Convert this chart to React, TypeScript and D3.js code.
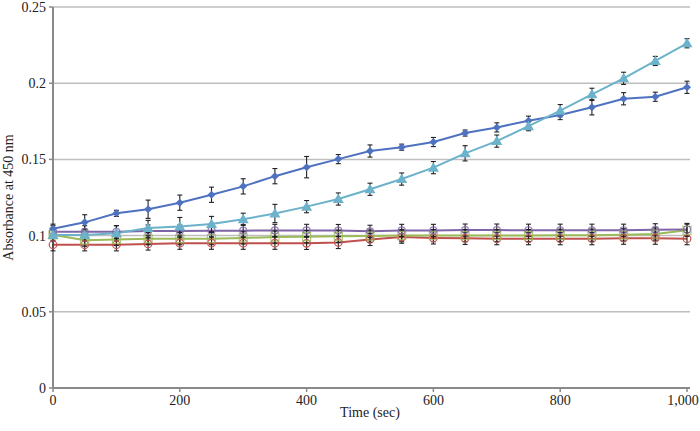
import React from "react";
import * as d3 from "d3";

const times = [0, 50, 100, 150, 200, 250, 300, 350, 400, 450, 500, 550, 600, 650, 700, 750, 800, 850, 900, 950, 1000];

const blueValues = [0.1045, 0.1087, 0.1146, 0.1173, 0.1216, 0.1268, 0.1323, 0.139, 0.1449, 0.1502, 0.1555, 0.158, 0.1614, 0.1673, 0.171, 0.1754, 0.1791, 0.1842, 0.1898, 0.1911, 0.1973];
const blueErrors = [0.003, 0.005, 0.002, 0.006, 0.005, 0.005, 0.005, 0.005, 0.007, 0.003, 0.004, 0.002, 0.003, 0.002, 0.003, 0.003, 0.003, 0.005, 0.004, 0.003, 0.004];

const cyanValues = [0.1004, 0.1004, 0.1015, 0.105, 0.1059, 0.1076, 0.1107, 0.1145, 0.119, 0.124, 0.1304, 0.1371, 0.1446, 0.154, 0.162, 0.1718, 0.182, 0.1927, 0.2032, 0.2146, 0.2262];
const cyanErrors = [0.004, 0.004, 0.005, 0.005, 0.006, 0.005, 0.004, 0.006, 0.004, 0.004, 0.004, 0.004, 0.004, 0.005, 0.004, 0.003, 0.004, 0.004, 0.004, 0.003, 0.003];

const purpleValues = [0.1025, 0.1025, 0.1025, 0.103, 0.103, 0.1032, 0.1032, 0.1034, 0.1034, 0.1033, 0.1028, 0.1034, 0.1034, 0.1036, 0.1036, 0.1035, 0.1035, 0.1035, 0.1035, 0.1038, 0.104];
const purpleErrors = [0.004, 0.004, 0.004, 0.004, 0.004, 0.004, 0.004, 0.004, 0.004, 0.004, 0.004, 0.004, 0.004, 0.004, 0.004, 0.004, 0.004, 0.004, 0.004, 0.004, 0.004];

const greenValues = [0.1005, 0.097, 0.0975, 0.098, 0.098, 0.098, 0.0985, 0.099, 0.0993, 0.0995, 0.0997, 0.1, 0.1, 0.1, 0.1, 0.1, 0.1002, 0.1003, 0.1005, 0.101, 0.1035];
const greenErrors = [0.004, 0.004, 0.004, 0.004, 0.004, 0.004, 0.004, 0.004, 0.004, 0.004, 0.004, 0.004, 0.004, 0.004, 0.004, 0.004, 0.004, 0.004, 0.004, 0.004, 0.004];

const redValues = [0.094, 0.094, 0.094, 0.0945, 0.095, 0.095, 0.095, 0.095, 0.0949, 0.0955, 0.0975, 0.099, 0.0985, 0.0982, 0.098, 0.098, 0.098, 0.098, 0.0983, 0.0983, 0.098];
const redErrors = [0.004, 0.004, 0.004, 0.004, 0.004, 0.004, 0.004, 0.004, 0.004, 0.004, 0.004, 0.004, 0.004, 0.004, 0.004, 0.004, 0.004, 0.004, 0.004, 0.004, 0.004];

const xTicks = [0, 200, 400, 600, 800, 1000];
const yTicks = [0, 0.05, 0.1, 0.15, 0.2, 0.25];

const xTitle = "Time (sec)";
const yTitle = "Absorbance at 450 nm";

type Series = { values: number[]; errors: number[]; color: string; marker: "diamond" | "triangle" | "circle" | "square" | "circleOpen" };

const seriesList: Series[] = [
  { values: redValues, errors: redErrors, color: "#C0504D", marker: "circleOpen" },
  { values: greenValues, errors: greenErrors, color: "#9BBB59", marker: "square" },
  { values: purpleValues, errors: purpleErrors, color: "#7F64A8", marker: "circle" },
  { values: blueValues, errors: blueErrors, color: "#4F72C0", marker: "diamond" },
  { values: cyanValues, errors: cyanErrors, color: "#6BB2CA", marker: "triangle" },
];

export default function App() {
  const W = 700, H = 431;
  const x = d3.scaleLinear().domain([0, 1000]).range([53, 687]);
  const y = d3.scaleLinear().domain([0, 0.25]).range([388, 7]);
  const plotRight = 690;
  const fmtX = d3.format(",");
  const font = "'Liberation Serif', 'Times New Roman', Times, serif";
  const fs = 14;

  const marker = (s: Series, px: number, py: number, k: number) => {
    switch (s.marker) {
      case "diamond":
        return <path key={k} d={`M${px},${py - 4}L${px + 4},${py}L${px},${py + 4}L${px - 4},${py}Z`} fill={s.color} />;
      case "triangle":
        return <path key={k} d={`M${px},${py - 5.5}L${px + 5.5},${py + 4}L${px - 5.5},${py + 4}Z`} fill={s.color} />;
      case "circle":
        return <circle key={k} cx={px} cy={py} r={3.5} fill="none" stroke={s.color} strokeWidth={1.2} opacity={0.8} />;
      case "square":
        return <rect key={k} x={px - 4} y={py - 4} width={8} height={8} fill="none" stroke={s.color} strokeWidth={1.2} opacity={0.8} />;
      case "circleOpen":
        return <circle key={k} cx={px} cy={py} r={3.8} fill="none" stroke={s.color} strokeWidth={1.2} />;
    }
  };

  const line = d3.line<number>().x((_, i) => x(times[i])).y((v) => y(v));

  return (
    <svg width={W} height={H} style={{ position: "absolute", left: 0, top: 0, background: "#fff", fontFamily: font }}>
      {yTicks.filter((t) => t > 0).map((t) => (
        <line key={t} x1={53} x2={plotRight} y1={y(t)} y2={y(t)} stroke="#BEBEBE" strokeWidth={1.5} />
      ))}
      <line x1={53} x2={53} y1={y(0.25)} y2={y(0)} stroke="#8A8A8A" strokeWidth={2} />
      <line x1={53} x2={plotRight} y1={y(0)} y2={y(0)} stroke="#8A8A8A" strokeWidth={2} />
      {yTicks.map((t) => (
        <g key={t}>
          <line x1={49} x2={53} y1={y(t)} y2={y(t)} stroke="#8A8A8A" strokeWidth={1.5} />
          <text x={46} y={y(t)} dy="0.35em" textAnchor="end" fontSize={fs} fill="#222">{String(t)}</text>
        </g>
      ))}
      {xTicks.map((t) => (
        <g key={t}>
          <line x1={x(t)} x2={x(t)} y1={y(0)} y2={y(0) + 4} stroke="#8A8A8A" strokeWidth={1.5} />
          <text x={t === 1000 ? x(t) - 4 : x(t)} y={405} textAnchor="middle" fontSize={fs} fill="#222">{fmtX(t)}</text>
        </g>
      ))}
      <text x={370} y={417} textAnchor="middle" fontSize={fs} fill="#222">{xTitle}</text>
      <text transform={`translate(13,${y(0.125)}) rotate(-90)`} textAnchor="middle" fontSize={fs} fill="#222">{yTitle}</text>

      {seriesList.map((s, si) => (
        <path key={si} d={line(s.values) || ""} fill="none" stroke={s.color} strokeWidth={2} />
      ))}
      {seriesList.map((s, si) => (
        <g key={"e" + si}>
          {s.values.map((v, i) => {
            const px = x(times[i]);
            const y1 = y(v - s.errors[i]);
            const y2 = y(v + s.errors[i]);
            return (
              <g key={i} stroke="#222" strokeWidth={1.1}>
                <line x1={px} x2={px} y1={y1} y2={y2} />
                <line x1={px - 2.5} x2={px + 2.5} y1={y1} y2={y1} />
                <line x1={px - 2.5} x2={px + 2.5} y1={y2} y2={y2} />
              </g>
            );
          })}
        </g>
      ))}
      {seriesList.map((s, si) => (
        <g key={"m" + si}>{s.values.map((v, i) => marker(s, x(times[i]), y(v), i))}</g>
      ))}
    </svg>
  );
}
